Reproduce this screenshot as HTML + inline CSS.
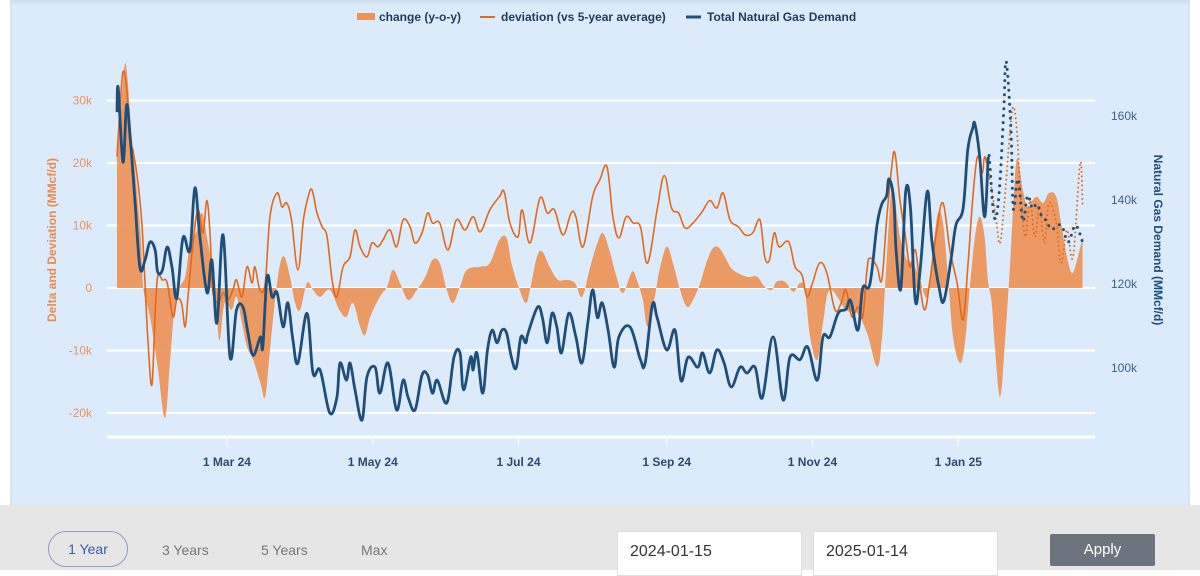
<!DOCTYPE html>
<html><head><meta charset="utf-8"><style>
body{margin:0;width:1200px;height:570px;overflow:hidden;background:#fff;font-family:"Liberation Sans",sans-serif;position:relative}
#panel{position:absolute;left:10px;top:0;width:1180px;height:505px;background:#dbebfc;box-shadow:0 2px 4px rgba(0,0,0,.08) inset}
#bottom{position:absolute;left:0;top:505px;width:1200px;height:65px;background:#e6e6e6}
.rng{position:absolute;top:542px;font-size:14px;color:#777}
.inp{position:absolute;top:531px;height:45px;width:185px;background:#fff;border:1px solid #ddd;font-size:16px;color:#333;box-sizing:border-box;padding:11px 12px}
</style></head><body>
<div id="panel"></div>
<svg id="chart" width="1200" height="505" style="position:absolute;left:0;top:0"></svg>
<div id="bottom"></div>
<div style="position:absolute;left:48px;top:531px;width:80px;height:36px;border:1.5px solid #8c9cc8;border-radius:18px;box-sizing:border-box;text-align:center;line-height:34px;font-size:14px;color:#3b5ba8">1 Year</div>
<div class="rng" style="left:162px">3 Years</div>
<div class="rng" style="left:261px">5 Years</div>
<div class="rng" style="left:361px">Max</div>
<div class="inp" style="left:617px">2024-01-15</div>
<div class="inp" style="left:813px">2025-01-14</div>
<div style="position:absolute;left:1050px;top:534px;width:105px;height:32px;background:#6c757d;color:#fff;font-size:15px;text-align:center;line-height:32px;border-radius:2px">Apply</div>
<script>
// day offsets from 2024-01-15
const leftTicks=[30,20,10,0,-10,-20];
const leftTickLabels=["30k","20k","10k","0","-10k","-20k"];
const rightTicks=[160,140,120,100];
const rightTickLabels=["160k","140k","120k","100k"];
const xTickDays=[46,107,168,230,291,352];
const xTickLabels=["1 Mar 24","1 May 24","1 Jul 24","1 Sep 24","1 Nov 24","1 Jan 25"];
const forecastStartDay=364.5;
const demandDays=[0,0.5,2.5,4,5.5,7.5,9.6,11.7,13.8,16,17,19,21,23,25,27.6,30.5,32.6,34.7,37.7,39.7,41.8,44.4,47.3,50,52.7,54.8,57,60,61,62.8,64.9,67,69.5,71.5,73.6,75.7,79.5,82,85,89,92,93.3,96,97.5,99.6,102.5,104.6,108,110,113.4,117,119.7,121.8,124.7,127.6,130,132,134,
138,141,143.5,145,148,149,150.6,153,155,157,159,161,163,165,167,169,171,172,176,178,180,182,184,186,189,192,194.5,197,199,201,203,205.5,208,210,214.6,219,221,224,226,230,233.5,236,239,243,245,248,251,254,257,260.7,263.6,267,270,274.5,278.7,281.6,285.8,289,293,295.4,298.3,301.7,
305,307,310,312,315,318,320,322,323,325,326,328,330,332,334,336,339,341,344,346,349,351,354,356,358,359,361,363,364.5,
365,367,369,371,372,374,375,377,379,381,383,385,387,389,391,395,398,401,404];
const demandValues=[160.9,166.7,149,162.6,155,140,124,125.7,130,128,122.9,123.3,128.8,124,116.7,131,128,142.9,131.2,117.9,125.7,110.7,131.7,102.6,113.8,114.5,108.3,103,107.4,105,121.7,116.9,117.9,109.8,115.5,106.7,101.2,113,98.8,99.5,89.3,93,101.2,97.1,101.2,94.8,87.6,97.9,100.2,94,101.2,90,97.1,93,90,98.3,98.3,94,97.1,
91.7,102.6,103.6,94.8,102.6,99.5,103.6,94,104.3,109,106,109,108.3,102.6,100,107.4,106,108.3,114.5,112,106,113,109.8,103.6,113,107.4,101.2,110.7,118.6,112,115.5,109,100.2,107.4,109.8,102,101.2,115,112,104.3,109,97,102.6,100.2,103.6,98.8,104.3,101.2,95.5,100.2,98.8,100.2,92.9,107.4,92.4,102.6,102,105,97.1,107.4,107.4,113,
114,116,109,119,120,134,139,141,145,140,128,119,142,138,116,123,142,130,119,116,126,134,138,152,157,158,150,136,150,
150,136,141,161,173,157,138,145,135,141,138,139,136,135,133,134,130,134,130];
const deviationDays=[0,0.5,1.3,2.5,4,5.4,6.7,8.8,10.5,11.7,13,14.6,15.9,17,19,21,23.4,25,27,28.5,29.7,31.8,33.9,36,37.6,39,40,42.3,44.4,46.4,48.5,50,52.3,54.4,56.5,57.7,59.8,62,64,67,69,71,73,75.7,78,80,81.6,83.7,85.8,87.9,90,92,94.6,97.5,99.6,101.7,104.6,106.7,109.2,111.3,114.2,117,119.7,122.6,124.7,127.6,130,132,
135,138.5,142,145.6,149,152,156,160,162,164.4,167.8,169.5,172.8,177,180,183,186.6,190,192,195,199,202,205,207.5,210,213,216,219,222,226,229,232,235,237.7,241,244.8,248,251,253.6,256.5,260,262.8,266,269,271,273,275,277,281,283.7,286.6,288.7,291,294,297,
300.4,303,305,307.5,310,312,313.8,315,318,320,322,324,325.5,327.6,329.7,331.8,334,336,338,340,343,345.6,348.5,351.5,354,356,358,360,362,363,364.5,
366.5,368,369.5,371.5,373.6,375,376.5,378,380,382,384,386,388,390,393,395,397.5,400,403,404];
const deviationValues=[21,24.2,29,34.6,32,23.7,22,16.8,9.8,0.8,-8.8,-15.5,-4.6,1.8,1.3,0.8,-4.6,-1.9,-2.4,-6.2,-1.4,7.2,12.5,8.8,14,8.2,-0.3,-2.4,-0.8,-1.9,-0.3,1.3,-1.4,3.4,0.8,3.4,-0.3,0.8,11.4,15.2,13,13.6,10.9,2.9,10.9,14.6,15.7,12,9.8,8.2,1.3,-1.4,3.4,5,9.3,6.6,5,7.2,6.6,7.7,9.3,6.6,10.9,9.8,7.2,8.8,12,10.4,
10.4,6.1,10.9,9.3,11.4,9,12.5,14.6,15.4,10.4,8.2,12.5,7.2,14.4,12,12.5,8.5,12,11.4,6.6,14.6,17.3,19.4,11.4,8,11.4,10.4,9.8,4,12.5,18,12.8,12,9.6,10.4,12.2,14,12.8,15.2,10.9,9.8,8.5,8.8,10.9,5,4.5,8.8,6.6,7.4,3.4,2.1,-1.4,0.8,4,2.4,
-3.5,-2.4,-0.3,-4.6,-3,-4.6,2.9,4.8,3.4,1.3,10.9,18.9,21.6,14,8.8,3.4,6.1,0.2,-3.5,0.8,9.3,13.6,6.1,0.8,-5.1,3.4,14,21,18.4,21,18.9,
14.6,10.4,7.2,14.6,24.8,29,25.3,15.7,8.2,14,8.2,13,7.2,13.6,10.4,4,9.3,5,20,13];
const changeDays=[0,1,2.5,3.5,4.5,6,8,10,11,13.8,17,20,22,24,26.4,28.5,30.5,33.5,35.6,37.6,39.7,41.8,43,45,48,50,52.3,54.4,57,60,62,64,66,68,70,72.4,74.5,76.6,79.5,82,85,89,93,96,98.7,101.7,103.8,106,110,113,115.5,118.4,121.8,125.5,129,132,
135,138,140.6,143.5,146.4,152,156,160,163,165,168,171,172.8,175.7,178,181,184.5,188,191.6,194.6,198,201,203.3,206,209,211.7,215.5,217.5,220,222,225,227,230,232.6,235.6,238.5,241,244,247,249.4,252,255,257.7,263.6,267.8,271,274,276,279.5,283,285.8,287.8,290,293,295.4,298.3,
305,309.6,313.8,318,320,321.3,322.6,324,325.5,327.6,330.5,333,336,339,341.4,343.5,345.6,347.7,349.8,352.7,354.8,357,359,361,363,364.4,
366,367.4,369.5,371.5,373.6,375.7,377,379,381,383,385,387.5,390,393,395,397.5,399.6,401.7,404];
const changeValues=[21,25,33,36,33,25,17,8,0,-4.6,-12.6,-20.8,-12.6,-3.5,0.2,1.8,6.6,9.3,12,8.2,3.4,-4.6,-8.3,-2.4,-3.5,-1.4,-5.6,-9.4,-11.5,-15.2,-17.4,-9.9,-2.4,3.4,5,1.8,-2.4,-3.5,0.8,-0.3,-1.4,-0.3,-3.5,-4.6,-2.4,-6.2,-7.5,-4.6,-1.4,0.2,2.9,0.8,-1.9,-0.3,1.8,4.5,
4,-0.3,-2.4,0.2,2.9,3.4,4,7.7,8,4,0.2,-2.4,-0.3,5,5.8,3.4,1.3,1.3,0.8,-1.4,3.4,7.2,8.8,6.1,1.8,-0.8,2.6,1.3,-1.9,-6.2,-1.4,2.9,6.6,4,-0.3,-3,-1.9,0.8,4.5,6.4,6.4,4.5,2.9,1.8,1.8,0.2,-0.3,1,1,-0.6,0.8,-0.3,-7.8,-11.5,-5.6,-0.3,
-3.5,-4,-7.2,-12.6,-8.3,-0.3,8.2,15.7,14,8.2,4.5,4,1.3,-1.4,6.1,12,10.4,1.8,-7.8,-12,-8.8,0.8,8.2,11.4,8.2,1.3,
-2.4,-9.9,-17.4,-8.8,3.4,17.8,20.5,15.7,13,14,14.6,13.6,15.2,14.6,10.4,5,2.4,4.5,8.2];

const NS="http://www.w3.org/2000/svg";
const svg=document.getElementById('chart');
const X0=117,PX=2.39;
function xs(d){return X0+d*PX;}
function yl(v){return 288-v*6.25;}
function yr(v){return 284-(v-120)*4.2;}
function mk(tag,attrs,parent){const e=document.createElementNS(NS,tag);for(const k in attrs)e.setAttribute(k,attrs[k]);(parent||svg).appendChild(e);return e;}
function pathD(pts){
  let d="M"+pts[0][0].toFixed(1)+","+pts[0][1].toFixed(1);
  for(let i=0;i<pts.length-1;i++){
    const p0=pts[i-1]||pts[i],p1=pts[i],p2=pts[i+1],p3=pts[i+2]||p2;
    const t=0.18;
    const c1=[p1[0]+(p2[0]-p0[0])*t,p1[1]+(p2[1]-p0[1])*t];
    const c2=[p2[0]-(p3[0]-p1[0])*t,p2[1]-(p3[1]-p1[1])*t];
    d+="C"+c1[0].toFixed(1)+","+c1[1].toFixed(1)+" "+c2[0].toFixed(1)+","+c2[1].toFixed(1)+" "+p2[0].toFixed(1)+","+p2[1].toFixed(1);
  }
  return d;
}
function split(days,vals,yf){
  const a=[],b=[];
  days.forEach((d,i)=>{const p=[xs(d),yf(vals[i])];if(d<=forecastStartDay)a.push(p);else b.push(p);});
  if(a.length&&b.length)b.unshift(a[a.length-1]);
  return [a,b];
}
// grid
leftTicks.forEach((v,i)=>{
  const g=mk('line',{x1:107,x2:1095,y1:yl(v),y2:yl(v),stroke:'#fff','stroke-width':2});
  
  
  const t=mk('text',{x:92,y:yl(v)+4,'text-anchor':'end','font-size':12,fill:'#ec935a'});
  t.textContent=leftTickLabels[i];
  
  
});
rightTicks.forEach((v,i)=>{
  const t=mk('text',{x:1111,y:yr(v)+4,'font-size':12,fill:'#3c5f8a'});
  t.textContent=rightTickLabels[i];
  
  
});
const ax=mk('line',{x1:107,x2:1095,y1:437,y2:437,stroke:'#fff','stroke-width':3});


xTickDays.forEach((d,i)=>{
  mk('line',{x1:xs(d),x2:xs(d),y1:438,y2:446,stroke:'#fff','stroke-width':1});
  const t=mk('text',{x:xs(d),y:466,'text-anchor':'middle','font-size':12,'font-weight':'bold',fill:'#2c4a6e'});
  t.textContent=xTickLabels[i];
  
  
});
// change area
const cp=changeDays.map((d,i)=>[xs(d),yl(changeValues[i])]);
const area=mk('path',{d:pathD(cp)+"L"+cp[cp.length-1][0]+","+yl(0)+"L"+cp[0][0]+","+yl(0)+"Z",fill:'#ee9356','fill-opacity':0.92});


// deviation
const [da,db]=split(deviationDays,deviationValues,yl);
const dl=mk('path',{d:pathD(da),fill:'none',stroke:'#e2691c','stroke-width':1.6});


const dlf=mk('path',{d:pathD(db),fill:'none',stroke:'#e2691c','stroke-width':2,'stroke-dasharray':'0 4.5','stroke-linecap':'round'});


// demand
const [ba,bb]=split(demandDays,demandValues,yr);
const bl=mk('path',{d:pathD(ba),fill:'none',stroke:'#1f4e79','stroke-width':2.8,'stroke-linejoin':'round'});


const blf=mk('path',{d:pathD(bb),fill:'none',stroke:'#1f4e79','stroke-width':3,'stroke-dasharray':'0 7','stroke-linecap':'round'});


// axis titles
const lt=mk('text',{x:0,y:0,transform:'translate(56,240) rotate(-90)','text-anchor':'middle','font-size':12,'font-weight':'bold',fill:'#ec8a4c'});
lt.textContent='Delta and Deviation (MMcf/d)';


const rt=mk('text',{x:0,y:0,transform:'translate(1154,240) rotate(90)','text-anchor':'middle','font-size':12,'font-weight':'bold',fill:'#1f4e79'});
rt.textContent='Natural Gas Demand (MMcf/d)';


// legend
const lg=mk('g',{});


const items=[[357,'rect','#ee9356','change (y-o-y)'],[480,'line','#e2691c','deviation (vs 5-year average)'],[686,'line','#1f4e79','Total Natural Gas Demand']];
items.forEach(it=>{
  const g=mk('g',{},lg);
  
  
  if(it[1]==='rect')mk('rect',{x:it[0],y:13,width:18,height:7,fill:it[2]},g);
  else mk('line',{x1:it[0],x2:it[0]+15,y1:17,y2:17,stroke:it[2],'stroke-width':it[2]==='#1f4e79'?3:2},g);
  const t=mk('text',{x:it[0]+(it[1]==='rect'?22:21),y:21,'font-size':12,'font-weight':'bold',fill:'#1f3b5a'},g);
  t.textContent=it[3];
});
</script>
</body></html>
